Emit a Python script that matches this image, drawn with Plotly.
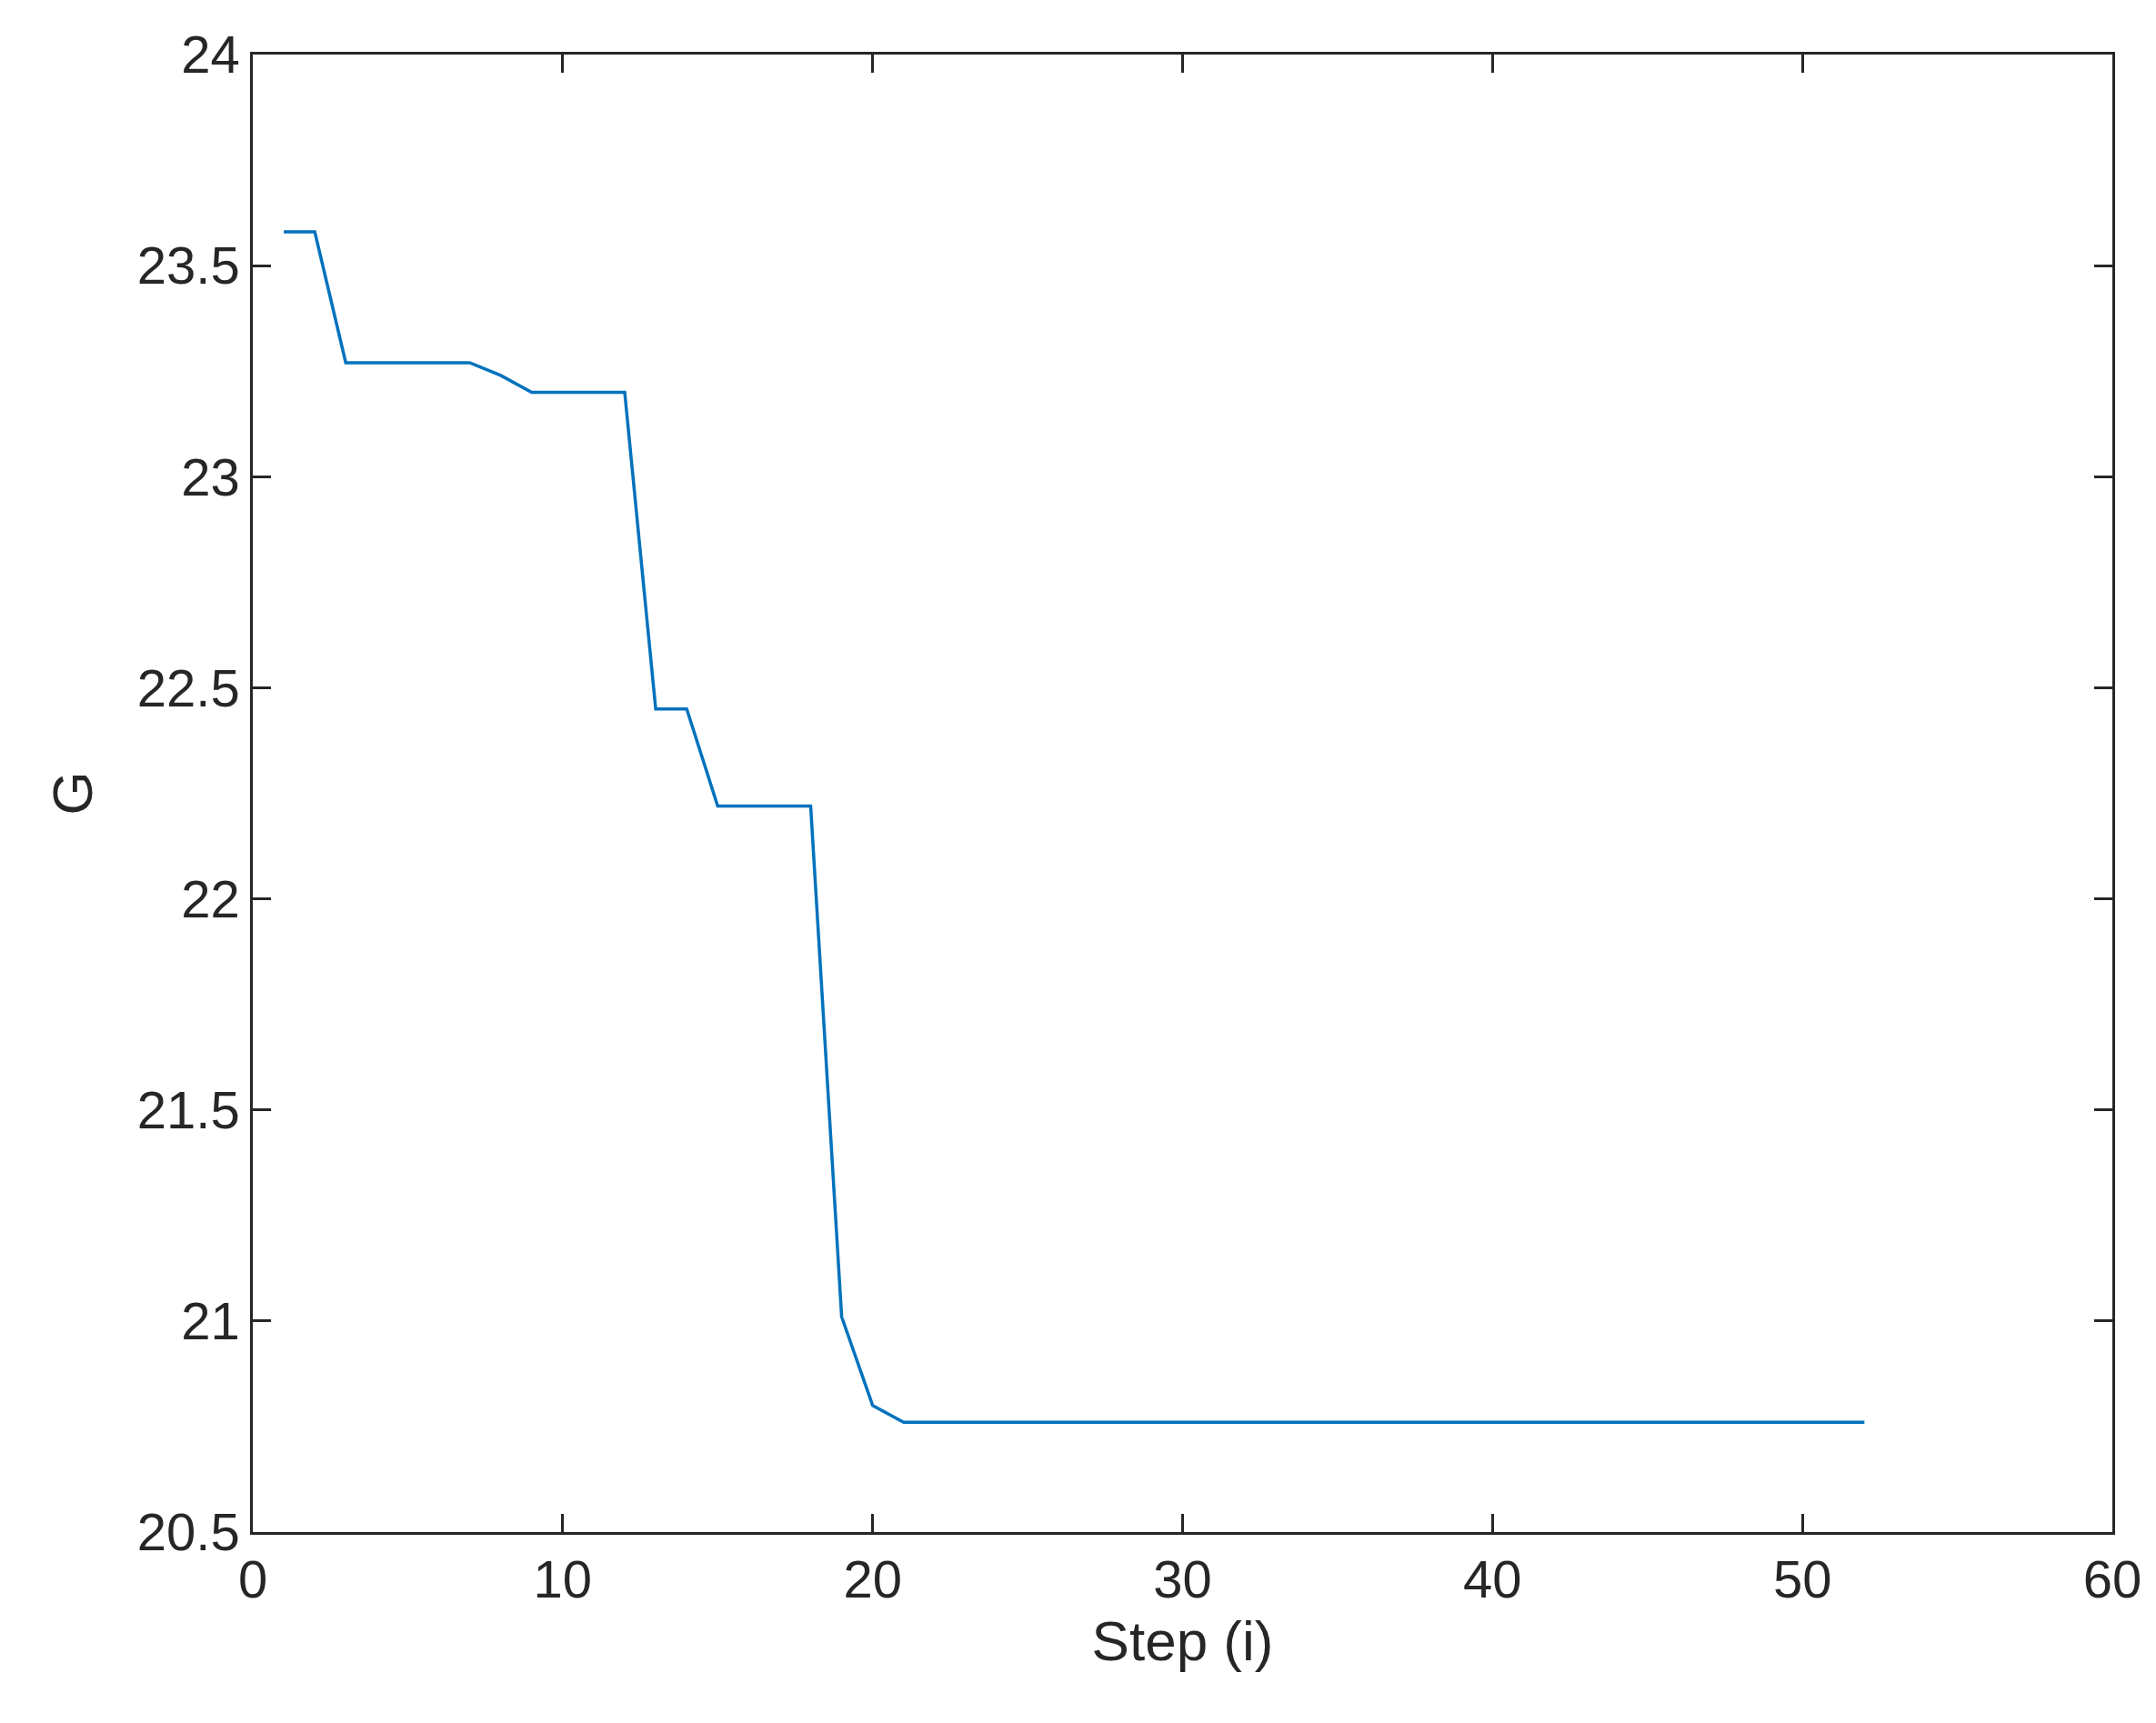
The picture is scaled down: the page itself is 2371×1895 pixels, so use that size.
import plotly.graph_objects as go

steps = list(range(1, 53))
g_head = [23.58, 23.58, 23.27, 23.27, 23.27, 23.27, 23.27, 23.24, 23.20, 23.20,
          23.20, 23.20, 22.45, 22.45, 22.22, 22.22, 22.22, 22.22, 21.01, 20.80]
g_values = g_head + [20.76] * (52 - len(g_head))

font = dict(size=58, color="#262626", family="Liberation Sans")
fig = go.Figure(go.Scatter(x=steps, y=g_values, mode="lines",
                           line=dict(color="#0072BD", width=3.5)))
ax = dict(showgrid=False, zeroline=False, mirror="ticks", ticks="inside",
          ticklen=20, tickwidth=2.5, showline=True, linecolor="#262626", linewidth=2.5,
          tickfont=font, tickcolor="#262626")
fig.update_xaxes(range=[0, 60], dtick=10,
                 title=dict(text="Step (i)", font=dict(size=62, color="#262626", family="Liberation Sans"), standoff=15), **ax)
fig.update_yaxes(range=[20.5, 24], dtick=0.5,
                 title=dict(text="G", font=dict(size=62, color="#262626", family="Liberation Sans"), standoff=30), **ax)
fig.update_layout(width=2371, height=1895, plot_bgcolor="white", paper_bgcolor="white",
                  showlegend=False, margin=dict(l=270, r=56, t=52, b=218))
fig.write_html("out.html")
